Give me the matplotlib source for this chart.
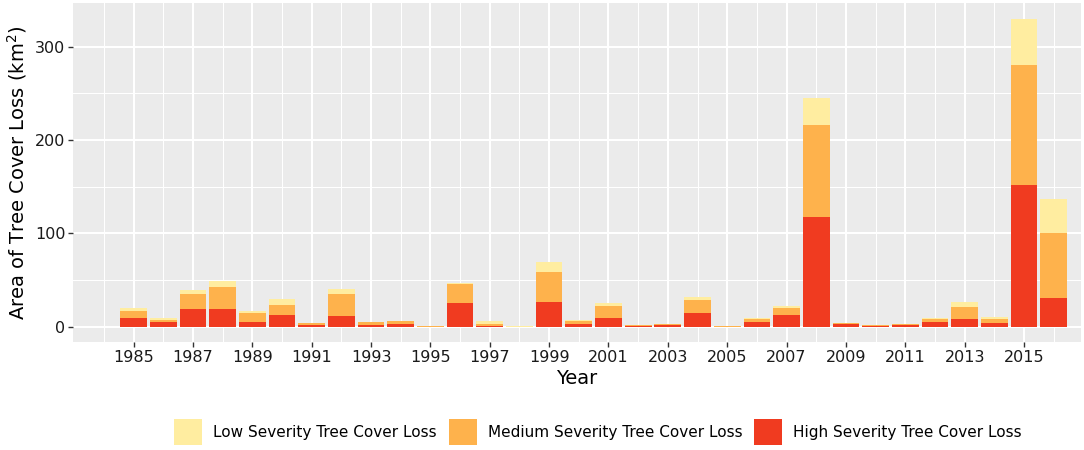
import matplotlib
matplotlib.use('Agg')
import matplotlib.pyplot as plt
import numpy as np

years = list(range(1985, 2017))
high = [9, 5, 19, 19, 5.4, 12, 1.5, 11.6, 2, 3.2, 0.1, 25, 0.8, 0, 26, 2.5,
        9.3, 0.3, 1.8, 14.3, 0, 5.4, 12, 117.5, 2.5, 1, 1.8, 5.2, 8, 3.6, 151.7, 31.1]
medium = [8, 2.3, 16, 23, 8.7, 10.8, 2, 23.4, 2.5, 2.3, 0.3, 20.2, 1.8, 0.1, 32.7, 3.1,
          12.8, 1, 1.1, 13.9, 0.2, 3, 7.6, 99.2, 1.4, 0.4, 1.1, 3, 13.2, 5, 129.3, 68.9]
low = [2.5, 2.3, 4, 6.5, 3, 6.7, 0.7, 5.5, 0.6, 0.9, 0.6, 1.5, 2.9, 0.5, 10.4, 1.3,
       2.7, 0.2, 0.3, 3.2, 0.8, 1.2, 2.9, 28.9, 0.4, 0.1, 0.2, 0.7, 5.6, 1.5, 49.2, 36.4]

labels = ['Low Severity Tree Cover Loss', 'Medium Severity Tree Cover Loss',
          'High Severity Tree Cover Loss']
colors = ['#FFEDA0', '#FEB24C', '#F03B20']

fig = plt.figure(figsize=(10.84, 4.5), dpi=100)
ax = fig.add_axes([73 / 1084, 1 - 342 / 450, 1008 / 1084, 339 / 450])
ax.set_facecolor('#EBEBEB')

high_a = np.array(high)
med_a = np.array(medium)
b_high = ax.bar(years, high, width=0.9, color=colors[2], linewidth=0)
b_med = ax.bar(years, medium, width=0.9, bottom=high_a, color=colors[1], linewidth=0)
b_low = ax.bar(years, low, width=0.9, bottom=high_a + med_a, color=colors[0], linewidth=0)

ax.set_xlim(1982.96, 2016.92)
ax.set_ylim(-16.5, 347)
ax.set_xticks(range(1985, 2016, 2))
ax.set_xticks(range(1984, 2017, 2), minor=True)
ax.set_yticks([0, 100, 200, 300])
ax.set_yticks([50, 150, 250], minor=True)
ax.grid(which='major', color='white', linewidth=1.5)
ax.grid(which='minor', color='white', linewidth=0.75)
ax.set_axisbelow(True)
for s in ax.spines.values():
    s.set_visible(False)
ax.tick_params(which='major', length=3.5, width=1, color='#333333',
               labelsize=11.5, labelcolor='#1a1a1a', pad=2)
ax.tick_params(which='minor', length=0)

ax.set_xlabel('Year', fontsize=14, labelpad=3)
ax.set_ylabel('Area of Tree Cover Loss (km$^2$)', fontsize=14, labelpad=4)

fig.legend([b_low, b_med, b_high], labels, loc='center', ncol=3,
           bbox_to_anchor=(598 / 1084, 1 - 432 / 450), frameon=False,
           fontsize=11, handlelength=1.83, handleheight=2.3,
           handletextpad=0.72, columnspacing=0.78)

fig.savefig('out.png', dpi=100)
